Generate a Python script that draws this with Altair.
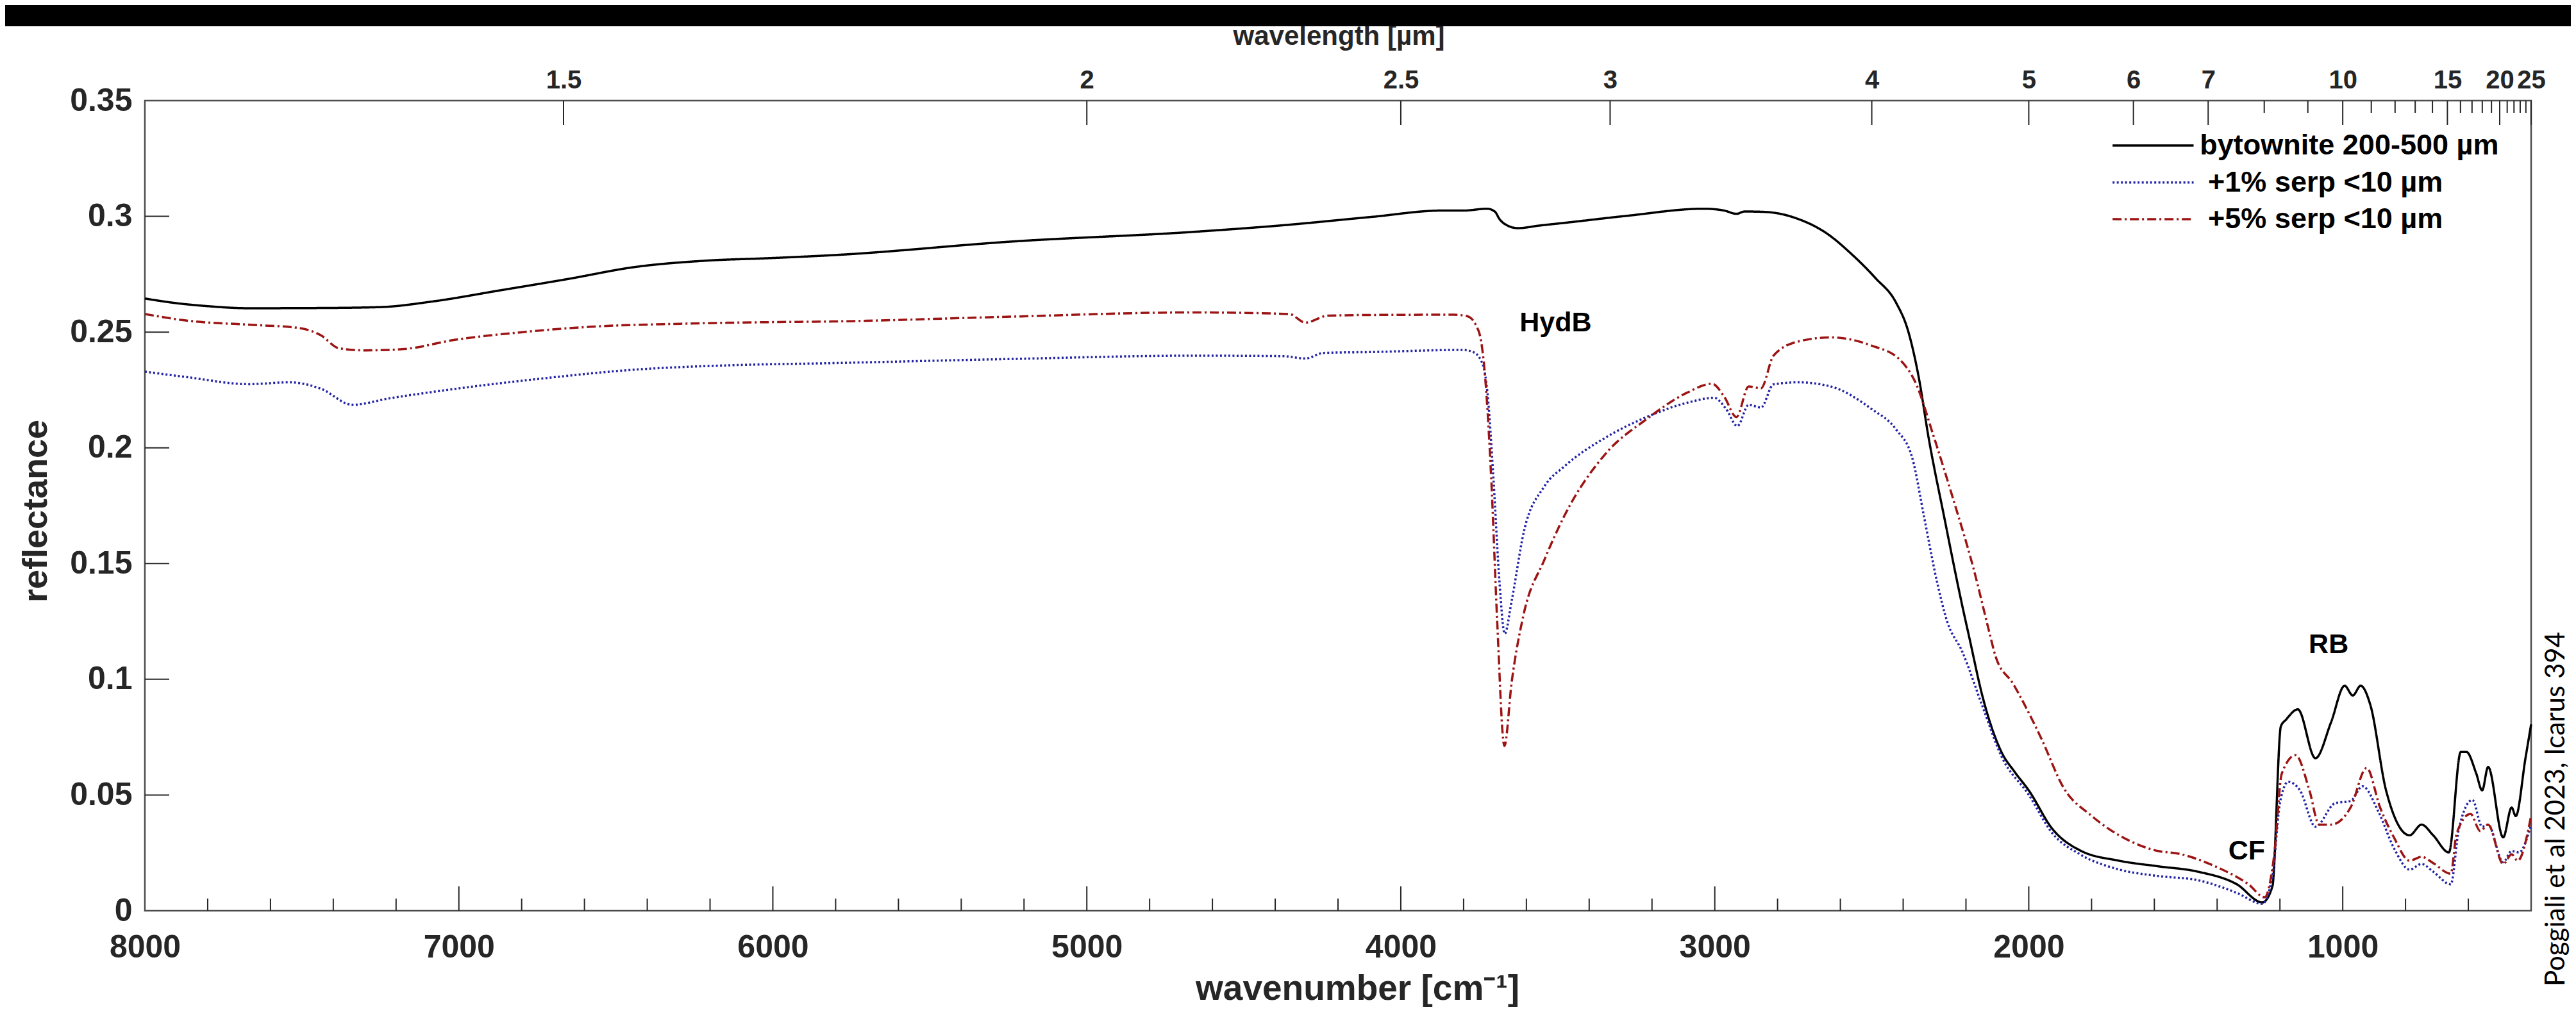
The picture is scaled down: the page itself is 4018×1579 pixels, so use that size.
import altair as alt
import pandas as pd

# ---------------- data ----------------
series_names = ["bytownite 200-500 µm", "+1% serp <10 µm", "+5% serp <10 µm"]

byt_wn = [8000, 7900, 7800, 7670, 7440, 7250, 7080, 6870, 6650, 6440, 6220, 6000, 5800, 5230, 4660,
          4380, 4090, 3870, 3800, 3725, 3700, 3686, 3660, 3627, 3560, 3478, 3282, 3035, 2970, 2931,
          2905, 2839, 2735, 2644, 2566, 2488, 2423, 2384, 2351, 2319, 2268, 2215, 2187, 2149, 2087,
          2045, 2000, 1925, 1837, 1712, 1588, 1462, 1337, 1256, 1224, 1197, 1181, 1143, 1087, 1037,
          994, 968, 943, 912, 862, 787, 749, 712, 662, 624, 606, 575, 556, 537, 489, 462, 449, 418, 400]
byt_r = [0.2645, 0.2625, 0.2612, 0.2603, 0.2604, 0.2608, 0.2633, 0.2680, 0.2730, 0.2781, 0.2808, 0.2820,
         0.2833, 0.2892, 0.2933, 0.2961, 0.2998, 0.3025, 0.3025, 0.3033, 0.3020, 0.2989, 0.2960, 0.2949,
         0.2960, 0.2972, 0.3002, 0.3033, 0.3025, 0.3011, 0.3021, 0.3019, 0.2989, 0.2927, 0.2839, 0.2733,
         0.2628, 0.2504, 0.2309, 0.2044, 0.1692, 0.1338, 0.1166, 0.0935, 0.0686, 0.0600, 0.0520, 0.0354,
         0.0261, 0.0216, 0.0192, 0.0169, 0.0114, 0.0036, 0.0105, 0.0797, 0.0825, 0.0870, 0.0659, 0.0815,
         0.0972, 0.0930, 0.0972, 0.0889, 0.0520, 0.0326, 0.0372, 0.0326, 0.0252, 0.0686, 0.0686, 0.0594,
         0.0520, 0.0621, 0.0317, 0.0446, 0.0409, 0.0659, 0.0805]

s1_wn = [8000, 7869, 7669, 7540, 7439, 7339, 7224, 7010, 6724, 6437, 6151, 5807, 5235, 4662, 4375,
         4304, 4246, 4089, 3802, 3767, 3738, 3724, 3705, 3686, 3669, 3647, 3608, 3543, 3478, 3348,
         3217, 3087, 3002, 2964, 2928, 2892, 2853, 2813, 2735, 2631, 2501, 2423, 2371, 2332, 2293,
         2260, 2212, 2149, 2087, 2000, 1925, 1837, 1712, 1588, 1462, 1337, 1256, 1224, 1200, 1174,
         1136, 1087, 1024, 975, 937, 886, 837, 787, 749, 712, 656, 630, 587, 556, 537, 489, 462, 439, 400]
s1_r = [0.2329, 0.2306, 0.2275, 0.2283, 0.2255, 0.2186, 0.2213, 0.2255, 0.2301, 0.2338, 0.2356, 0.2366,
        0.2384, 0.2398, 0.2396, 0.2386, 0.2410, 0.2414, 0.2423, 0.2412, 0.2356, 0.2237, 0.1868, 0.1426,
        0.1197, 0.1338, 0.1638, 0.1833, 0.1921, 0.2044, 0.2133, 0.2195, 0.2216, 0.2168, 0.2094, 0.2186,
        0.2174, 0.2274, 0.2283, 0.2265, 0.2168, 0.2080, 0.1956, 0.1692, 0.1426, 0.1250, 0.1120, 0.0889,
        0.0667, 0.0501, 0.0335, 0.0244, 0.0178, 0.0150, 0.0132, 0.0077, 0.0030, 0.0150, 0.0465, 0.0557,
        0.0520, 0.0363, 0.0465, 0.0474, 0.0538, 0.0427, 0.0271, 0.0178, 0.0202, 0.0169, 0.0114, 0.0354,
        0.0479, 0.0363, 0.0372, 0.0210, 0.0258, 0.0252, 0.0372]

s5_wn = [8000, 7870, 7655, 7511, 7439, 7382, 7296, 7181, 7010, 6796, 6580, 6294, 6007, 5807, 5235,
         4662, 4355, 4304, 4232, 4089, 3831, 3789, 3752, 3731, 3712, 3693, 3670, 3647, 3608, 3543,
         3478, 3348, 3217, 3087, 3009, 2970, 2931, 2892, 2853, 2813, 2735, 2631, 2501, 2410, 2358,
         2306, 2241, 2176, 2125, 2106, 2050, 1962, 1888, 1800, 1674, 1588, 1525, 1400, 1300, 1249,
         1218, 1194, 1150, 1106, 1075, 1037, 975, 924, 881, 837, 787, 749, 712, 656, 637, 593, 562,
         537, 489, 462, 443, 400]
s5_r = [0.2578, 0.2550, 0.2531, 0.2518, 0.2486, 0.2430, 0.2421, 0.2426, 0.2467, 0.2500, 0.2523, 0.2536,
        0.2543, 0.2546, 0.2567, 0.2585, 0.2578, 0.2541, 0.2571, 0.2574, 0.2575, 0.2569, 0.2504, 0.2300,
        0.1868, 0.1250, 0.0712, 0.0986, 0.1285, 0.1515, 0.1709, 0.1974, 0.2124, 0.2239, 0.2277, 0.2221,
        0.2133, 0.2265, 0.2257, 0.2398, 0.2459, 0.2477, 0.2442, 0.2380, 0.2274, 0.2063, 0.1780, 0.1479,
        0.1200, 0.1100, 0.0981, 0.0750, 0.0529, 0.0410, 0.0299, 0.0258, 0.0247, 0.0188, 0.0114, 0.0058,
        0.0244, 0.0593, 0.0672, 0.0520, 0.0372, 0.0372, 0.0446, 0.0617, 0.0446, 0.0317, 0.0216, 0.0233,
        0.0206, 0.0160, 0.0335, 0.0418, 0.0344, 0.0372, 0.0202, 0.0244, 0.0216, 0.0410]

ann_text = ["HydB", "RB", "CF"]
ann_wn = [3507, 1045, 1306]
ann_r = [0.254, 0.115, 0.0258]

wn_labels = [8000, 7000, 6000, 5000, 4000, 3000, 2000, 1000]
refl_labels = [0, 0.05, 0.1, 0.15, 0.2, 0.25, 0.3, 0.35]
wl_major = [1.5, 2, 2.5, 3, 4, 5, 6, 7, 10, 15, 20, 25]
wl_minor = [8, 9, 11, 12, 13, 14, 16, 17, 18, 19, 21, 22, 23, 24]
wn_major_ticks = [7000, 6000, 5000, 4000, 3000, 2000, 1000]
wn_minor_ticks = [w for w in range(7800, 401, -200) if w % 1000 != 0]
refl_ticks = [0.05, 0.1, 0.15, 0.2, 0.25, 0.3]

credit = "Poggiali et al 2023, Icarus 394"

# legend placement inside the plot, in data units (wavenumber / reflectance)
leg_row_r = [0.3306, 0.3146, 0.2988]
leg_line_wn = (1733, 1475)
leg_text_wn = [1455, 1429, 1429]

# ---------------- layout constants ----------------
W, H = 3722, 1264
PAD = {"left": 218, "top": 149, "right": 62, "bottom": 150}
XDOM = [8000, 400]
YDOM = [0, 0.35]
PX_PER_WN = W / (XDOM[0] - XDOM[1])
PX_PER_R = H / (YDOM[1] - YDOM[0])
LONG_T, SHORT_T = 38, 19
BAND_PX = 33  # dark strip height above the figure

FONT = "Liberation Sans"
INK = "#262626"
COLORS = ["#000000", "#2323a6", "#9c1414"]
DASHES = [[1, 0], [3, 3.5], [14, 5, 3, 5]]

xscale = alt.Scale(domain=XDOM, nice=False, zero=False)
yscale = alt.Scale(domain=YDOM, nice=False, zero=False)
cscale = alt.Scale(domain=series_names, range=COLORS)
dscale = alt.Scale(domain=series_names, range=DASHES)

lines = pd.concat([
    pd.DataFrame({"wn": byt_wn, "r": byt_r, "series": series_names[0], "o": 0}),
    pd.DataFrame({"wn": s1_wn, "r": s1_r, "series": series_names[1], "o": 1}),
    pd.DataFrame({"wn": s5_wn, "r": s5_r, "series": series_names[2], "o": 2}),
])

bottom_axis = alt.Axis(
    values=wn_labels, format="d", orient="bottom", grid=False, domain=False, ticks=False, tickSize=0,
    labelFont=FONT, labelFontSize=50, labelFontWeight="bold", labelColor=INK, labelPadding=32,
    labelFlush=False, labelOverlap=False,
    title="wavenumber [cm⁻¹]", titleFont=FONT, titleFontSize=55, titleFontWeight="bold", titleColor=INK,
    titleX=1891, titleY=121, titleBaseline="middle", titleAlign="center",
)
left_axis = alt.Axis(
    values=refl_labels, format="~g", orient="left", grid=False, domain=False, ticks=False, tickSize=0,
    labelFont=FONT, labelFontSize=50, labelFontWeight="bold", labelColor=INK, labelPadding=20,
    labelFlush=False, labelOverlap=False,
    title="reflectance", titleFont=FONT, titleFontSize=54, titleFontWeight="bold", titleColor=INK,
    titleX=-170, titleY=640, titleAngle=270, titleBaseline="middle", titleAlign="center",
)
top_axis = alt.Axis(
    values=[10000 / w for w in wl_major], labelExpr="format(10000 / datum.value, '.3~g')",
    orient="top", grid=False, domain=False, ticks=False, tickSize=0,
    labelFont=FONT, labelFontSize=40, labelFontWeight="bold", labelColor=INK, labelPadding=12,
    labelFlush=False, labelOverlap=False,
    title="wavelength [µm]", titleFont=FONT, titleFontSize=42, titleFontWeight="bold", titleColor=INK,
    titleX=1862, titleY=-101, titleBaseline="middle", titleAlign="center",
)
right_axis = alt.Axis(
    orient="right", grid=False, domain=False, ticks=False, labels=False,
    title=credit, titleFont="Lato", titleFontSize=42, titleFontWeight="normal", titleColor="#000000",
    titleX=38, titleY=1105, titleAngle=270, titleBaseline="middle", titleAlign="center",
)

line_layer = alt.Chart(lines).mark_line(strokeWidth=3.5, interpolate="monotone").encode(
    x=alt.X("wn:Q", scale=xscale, axis=bottom_axis),
    y=alt.Y("r:Q", scale=yscale, axis=left_axis),
    color=alt.Color("series:N", scale=cscale, legend=None),
    strokeDash=alt.StrokeDash("series:N", scale=dscale, legend=None),
    order="o:Q",
)

# legend drawn inside the plot through the same colour / dash scales
leg = pd.DataFrame({"series": series_names, "r": leg_row_r,
                    "x0": [leg_line_wn[0]] * 3, "x1": [leg_line_wn[1]] * 3, "xt": leg_text_wn})
leg_lines = alt.Chart(leg).mark_rule(strokeWidth=3.5).encode(
    x=alt.X("x0:Q", scale=xscale, axis=None), x2="x1:Q",
    y=alt.Y("r:Q", scale=yscale, axis=None),
    color=alt.Color("series:N", scale=cscale, legend=None),
    strokeDash=alt.StrokeDash("series:N", scale=dscale, legend=None),
)
leg_text = alt.Chart(leg).mark_text(font=FONT, fontSize=45, fontWeight="bold", color="#000000",
                                     align="left", baseline="middle").encode(
    x=alt.X("xt:Q", scale=xscale, axis=None),
    y=alt.Y("r:Q", scale=yscale, axis=None),
    text="series:N",
)

# inward tick marks
bx = pd.DataFrame({"wn": wn_major_ticks + wn_minor_ticks,
                   "y0": [0.0] * (len(wn_major_ticks) + len(wn_minor_ticks)),
                   "y1": [LONG_T / PX_PER_R] * len(wn_major_ticks) + [SHORT_T / PX_PER_R] * len(wn_minor_ticks)})
bottom_ticks = alt.Chart(bx).mark_rule(color=INK, strokeWidth=2).encode(
    x=alt.X("wn:Q", scale=xscale, axis=None),
    y=alt.Y("y0:Q", scale=yscale, axis=None), y2="y1:Q")

tx = pd.DataFrame({"wn": [10000 / w for w in wl_major] + [10000 / w for w in wl_minor],
                   "y0": [YDOM[1]] * (len(wl_major) + len(wl_minor)),
                   "y1": [YDOM[1] - LONG_T / PX_PER_R] * len(wl_major) + [YDOM[1] - SHORT_T / PX_PER_R] * len(wl_minor)})
top_ticks = alt.Chart(tx).mark_rule(color=INK, strokeWidth=2).encode(
    x=alt.X("wn:Q", scale=xscale, axis=top_axis),
    y=alt.Y("y0:Q", scale=yscale, axis=right_axis), y2="y1:Q")

ly = pd.DataFrame({"r": refl_ticks, "x0": [XDOM[0]] * len(refl_ticks),
                   "x1": [XDOM[0] - LONG_T / PX_PER_WN] * len(refl_ticks)})
left_ticks = alt.Chart(ly).mark_rule(color=INK, strokeWidth=2).encode(
    x=alt.X("x0:Q", scale=xscale, axis=None), x2="x1:Q",
    y=alt.Y("r:Q", scale=yscale, axis=None))

ann = pd.DataFrame({"t": ann_text, "wn": ann_wn, "r": ann_r})
ann_layer = alt.Chart(ann).mark_text(font=FONT, fontSize=43, fontWeight="bold", color="#000000",
                                      align="center", baseline="middle").encode(
    x=alt.X("wn:Q", scale=xscale, axis=None),
    y=alt.Y("r:Q", scale=yscale, axis=None),
    text="t:N")

# dark screen strip above the figure (decoration), placed through the scales
band_df = pd.DataFrame({
    "x0": [XDOM[0] + (PAD["left"] + 20) / PX_PER_WN],
    "x1": [XDOM[1] - (PAD["right"] + 20) / PX_PER_WN],
    "y0": [YDOM[1] + (PAD["top"] - BAND_PX) / PX_PER_R],
    "y1": [YDOM[1] + (PAD["top"] + 20) / PX_PER_R],
})
band = alt.Chart(band_df).mark_rect(color="#000000", clip=False).encode(
    x=alt.X("x0:Q", scale=xscale, axis=None), x2="x1:Q",
    y=alt.Y("y0:Q", scale=yscale, axis=None), y2="y1:Q")

chart = alt.layer(band, line_layer, leg_lines, leg_text, bottom_ticks, left_ticks, top_ticks, ann_layer).resolve_axis(
    x="independent", y="independent"
).properties(
    width=W, height=H,
    autosize=alt.AutoSizeParams(type="none"),
    padding=PAD,
    background="white",
).configure_view(stroke="#4d4d4d", strokeWidth=2.5)

chart.save("out.html", embed_options={"renderer": "svg", "actions": False})
